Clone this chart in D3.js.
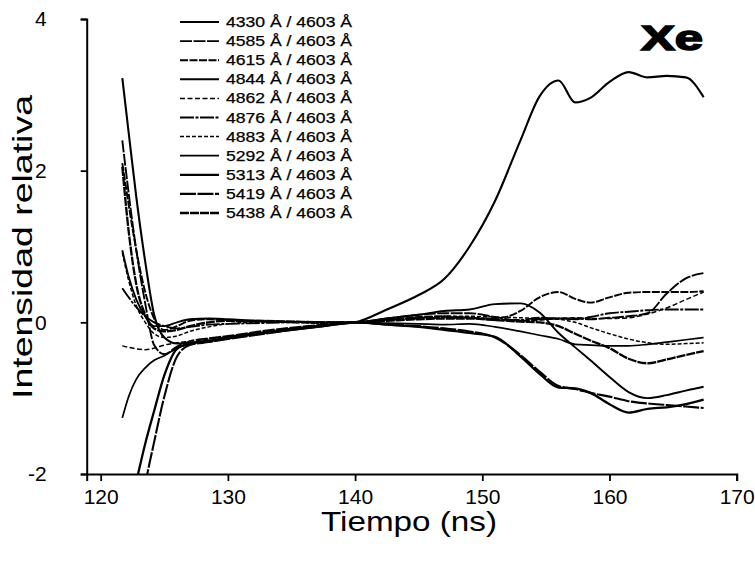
<!DOCTYPE html>
<html>
<head>
<meta charset="utf-8">
<script src="https://cdn.jsdelivr.net/npm/d3@7"></script>
<style>
  body { margin: 0; background: #fff; }
  svg { display: block; font-family: "Liberation Sans", Arial, sans-serif; }
</style>
</head>
<body>
<svg id="chart" width="755" height="562"></svg>
<script>
// time axis shared by every ratio (ns)
var time = [121.7, 122.2, 122.8, 123.5, 124.2, 125, 126, 127, 128.5, 130, 132.5, 135, 137.5, 140,
            142.5, 145, 147, 149, 151, 153, 154.5, 156, 157.3, 158.5, 160, 161.5, 163, 164.5, 166, 167.4];

var labels = ["4330 Å / 4603 Å", "4585 Å / 4603 Å", "4615 Å / 4603 Å", "4844 Å / 4603 Å",
              "4862 Å / 4603 Å", "4876 Å / 4603 Å", "4883 Å / 4603 Å", "5292 Å / 4603 Å",
              "5313 Å / 4603 Å", "5419 Å / 4603 Å", "5438 Å / 4603 Å"];

var r4330 = [3.22, 2.5, 1.65, 0.8, 0.1, -0.2, -0.28, -0.27, -0.24, -0.2, -0.14, -0.09, -0.04, 0.0,
             0.17, 0.36, 0.57, 1.0, 1.6, 2.4, 2.98, 3.19, 2.9, 2.96, 3.17, 3.30, 3.23, 3.25, 3.23, 2.97];
var r4585 = [2.40, 1.7, 0.95, 0.25, -0.3, -0.42, -0.32, -0.25, -0.21, -0.18, -0.12, -0.07, -0.03, 0.0,
             0.05, 0.1, 0.12, 0.12, 0.07, 0.02, 0.04, 0.05, 0.05, 0.04, 0.06, 0.08, 0.12, 0.38, 0.58, 0.65];
var r4615 = [2.1, 1.55, 0.95, 0.4, 0.05, -0.1, -0.05, 0.02, 0.04, 0.03, 0.01, 0.0, -0.01, 0.0,
             0.03, 0.07, 0.08, 0.06, 0.05, 0.15, 0.33, 0.40, 0.31, 0.26, 0.33, 0.39, 0.40, 0.40, 0.40, 0.41];
var r4844 = [0.95, 0.6, 0.3, 0.08, -0.05, -0.05, 0.0, 0.04, 0.05, 0.04, 0.02, 0.01, 0.0, 0.0,
             0.05, 0.1, 0.15, 0.17, 0.24, 0.25, 0.13, -0.14, -0.33, -0.5, -0.72, -0.92, -1.0, -0.96, -0.9, -0.85];
var r4862 = [-0.31, -0.33, -0.35, -0.36, -0.34, -0.3, -0.27, -0.25, -0.22, -0.19, -0.13, -0.08, -0.04, 0.0,
             0.03, 0.06, 0.07, 0.06, 0.04, 0.02, 0.03, 0.05, 0.06, 0.05, 0.05, 0.06, 0.11, 0.19, 0.30, 0.40];
var r4876 = [0.45, 0.33, 0.2, 0.08, 0.0, -0.05, -0.08, -0.06, -0.03, -0.02, -0.01, 0.0, 0.0, 0.0,
             0.03, 0.05, 0.06, 0.06, 0.03, 0.03, 0.06, 0.05, 0.04, 0.07, 0.12, 0.14, 0.16, 0.17, 0.17, 0.17];
var r4883 = [0.92, 0.55, 0.22, 0.0, -0.15, -0.2, -0.18, -0.12, -0.06, -0.02, 0.0, 0.0, 0.0, 0.0,
             0.03, 0.06, 0.08, 0.08, 0.07, 0.06, 0.05, 0.04, 0.0, -0.07, -0.15, -0.22, -0.27, -0.29, -0.28, -0.27];
var r5292 = [-1.26, -0.98, -0.75, -0.6, -0.5, -0.44, -0.34, -0.28, -0.24, -0.2, -0.14, -0.09, -0.04, 0.0,
             -0.01, -0.02, -0.03, -0.02, -0.06, -0.12, -0.17, -0.22, -0.29, -0.3, -0.31, -0.31, -0.29, -0.26, -0.23, -0.2];
var r5313 = [-3.0, -2.55, -2.1, -1.6, -1.17, -0.7, -0.35, -0.28, -0.25, -0.21, -0.15, -0.1, -0.05, 0.0,
             -0.03, -0.06, -0.1, -0.14, -0.19, -0.45, -0.68, -0.86, -0.87, -0.93, -1.08, -1.19, -1.14, -1.12, -1.08, -1.02];
var r5419 = [-4.2, -3.6, -2.95, -2.15, -1.58, -0.98, -0.45, -0.3, -0.26, -0.22, -0.16, -0.1, -0.05, 0.0,
             -0.03, -0.05, -0.08, -0.12, -0.2, -0.43, -0.65, -0.84, -0.88, -0.93, -0.98, -1.04, -1.07, -1.09, -1.11, -1.13];
var r5438 = [2.05, 1.2, 0.5, 0.1, -0.08, -0.12, -0.1, -0.05, 0.0, 0.02, 0.02, 0.01, 0.0, 0.0,
             0.02, 0.04, 0.05, 0.05, 0.03, 0.01, 0.0, -0.05, -0.15, -0.24, -0.34, -0.48, -0.54, -0.49, -0.43, -0.38];

var xTicks = [120, 130, 140, 150, 160, 170];
var yTicks = [-2, 0, 2, 4];

var allSeries = [r4330, r4585, r4615, r4844, r4862, r4876, r4883, r5292, r5313, r5419, r5438];
// line look per ratio (same order as labels), scanned original shows them nearly solid
var dashes = [null, "12,1.5", "8,1.5", null, "5,2.5", "14,1.5,3,1.5", "4,2", null, null, "16,1.5", "9,1"];
var widths = [2.1, 1.9, 1.9, 1.9, 1.5, 1.9, 1.5, 1.7, 2.3, 2.1, 2.3];

function main() {
    var svg = d3.select("#chart");

    var x = d3.scaleLinear().domain([118.9, 170]).range([86.7, 736.7]);
    var y = d3.scaleLinear().domain([-2, 4]).range([474, 19]);

    svg.append("defs").append("clipPath").attr("id", "plotclip")
        .append("rect")
        .attr("x", x.range()[0]).attr("y", y(4) - 2)
        .attr("width", x.range()[1] - x.range()[0])
        .attr("height", y(-2) - y(4) + 2);

    var line = d3.line()
        .x(function(d) { return x(d[0]); })
        .y(function(d) { return y(d[1]); })
        .curve(d3.curveMonotoneX);

    var g = svg.append("g").attr("clip-path", "url(#plotclip)");
    allSeries.forEach(function(vals, i) {
        var pts = time.map(function(t, k) { return [t, vals[k]]; });
        g.append("path")
            .datum(pts)
            .attr("d", line)
            .attr("fill", "none")
            .attr("stroke", "#000")
            .attr("stroke-width", widths[i])
            .attr("stroke-dasharray", dashes[i])
            .attr("stroke-linejoin", "round");
    });

    var fmt = function(d) { return String(d); };

    // x axis (major + minor ticks)
    var xAxis = svg.append("g").attr("transform", "translate(0," + y(-2) + ")");
    xAxis.call(d3.axisBottom(x).tickValues(d3.range(125, 170, 10)).tickSize(5).tickFormat(""));
    xAxis.call(d3.axisBottom(x).tickValues(xTicks).tickSize(7).tickPadding(8).tickFormat(fmt));
    xAxis.selectAll(".domain").attr("stroke-width", 2);
    xAxis.selectAll(".tick line").attr("stroke-width", 1.8);
    xAxis.selectAll("text").attr("font-size", 21).attr("fill", "#000")
        .attr("font-family", "Liberation Sans, Arial, sans-serif");

    // y axis
    var yAxis = svg.append("g").attr("transform", "translate(" + x(118.9) + ",0)");
    yAxis.call(d3.axisLeft(y).tickValues([-1, 1, 3]).tickSize(4).tickFormat(""));
    yAxis.call(d3.axisLeft(y).tickValues(yTicks).tickSize(6).tickPadding(34).tickFormat(fmt));
    yAxis.selectAll(".domain").attr("stroke-width", 2);
    yAxis.selectAll(".tick line").attr("stroke-width", 1.8);
    yAxis.selectAll("text").attr("font-size", 21).attr("fill", "#000")
        .attr("font-family", "Liberation Sans, Arial, sans-serif");

    // axis titles
    svg.append("text")
        .attr("x", 409).attr("y", 531)
        .attr("text-anchor", "middle")
        .attr("font-size", 28)
        .attr("textLength", 176)
        .attr("lengthAdjust", "spacingAndGlyphs")
        .text("Tiempo (ns)");

    svg.append("text")
        .attr("transform", "translate(32,247) rotate(-90)")
        .attr("text-anchor", "middle")
        .attr("font-size", 28)
        .attr("textLength", 304)
        .attr("lengthAdjust", "spacingAndGlyphs")
        .text("Intensidad relativa");

    // element tag
    svg.append("text")
        .attr("x", 672).attr("y", 50)
        .attr("text-anchor", "middle")
        .attr("font-size", 35)
        .attr("font-weight", "bold")
        .attr("stroke", "#000").attr("stroke-width", 1.6)
        .attr("textLength", 62)
        .attr("lengthAdjust", "spacingAndGlyphs")
        .text("Xe");

    // legend
    var leg = svg.append("g");
    labels.forEach(function(lab, i) {
        var ly = 22 + i * 19.1;
        leg.append("line")
            .attr("x1", 180).attr("x2", 219)
            .attr("y1", ly).attr("y2", ly)
            .attr("stroke", "#000")
            .attr("stroke-width", widths[i])
            .attr("stroke-dasharray", dashes[i]);
        leg.append("text")
            .attr("x", 226).attr("y", ly + 5)
            .attr("font-size", 14.5)
            .attr("stroke", "#000").attr("stroke-width", 0.25)
            .attr("textLength", 126)
            .attr("lengthAdjust", "spacingAndGlyphs")
            .text(lab);
    });
}

main();
</script>
</body>
</html>
